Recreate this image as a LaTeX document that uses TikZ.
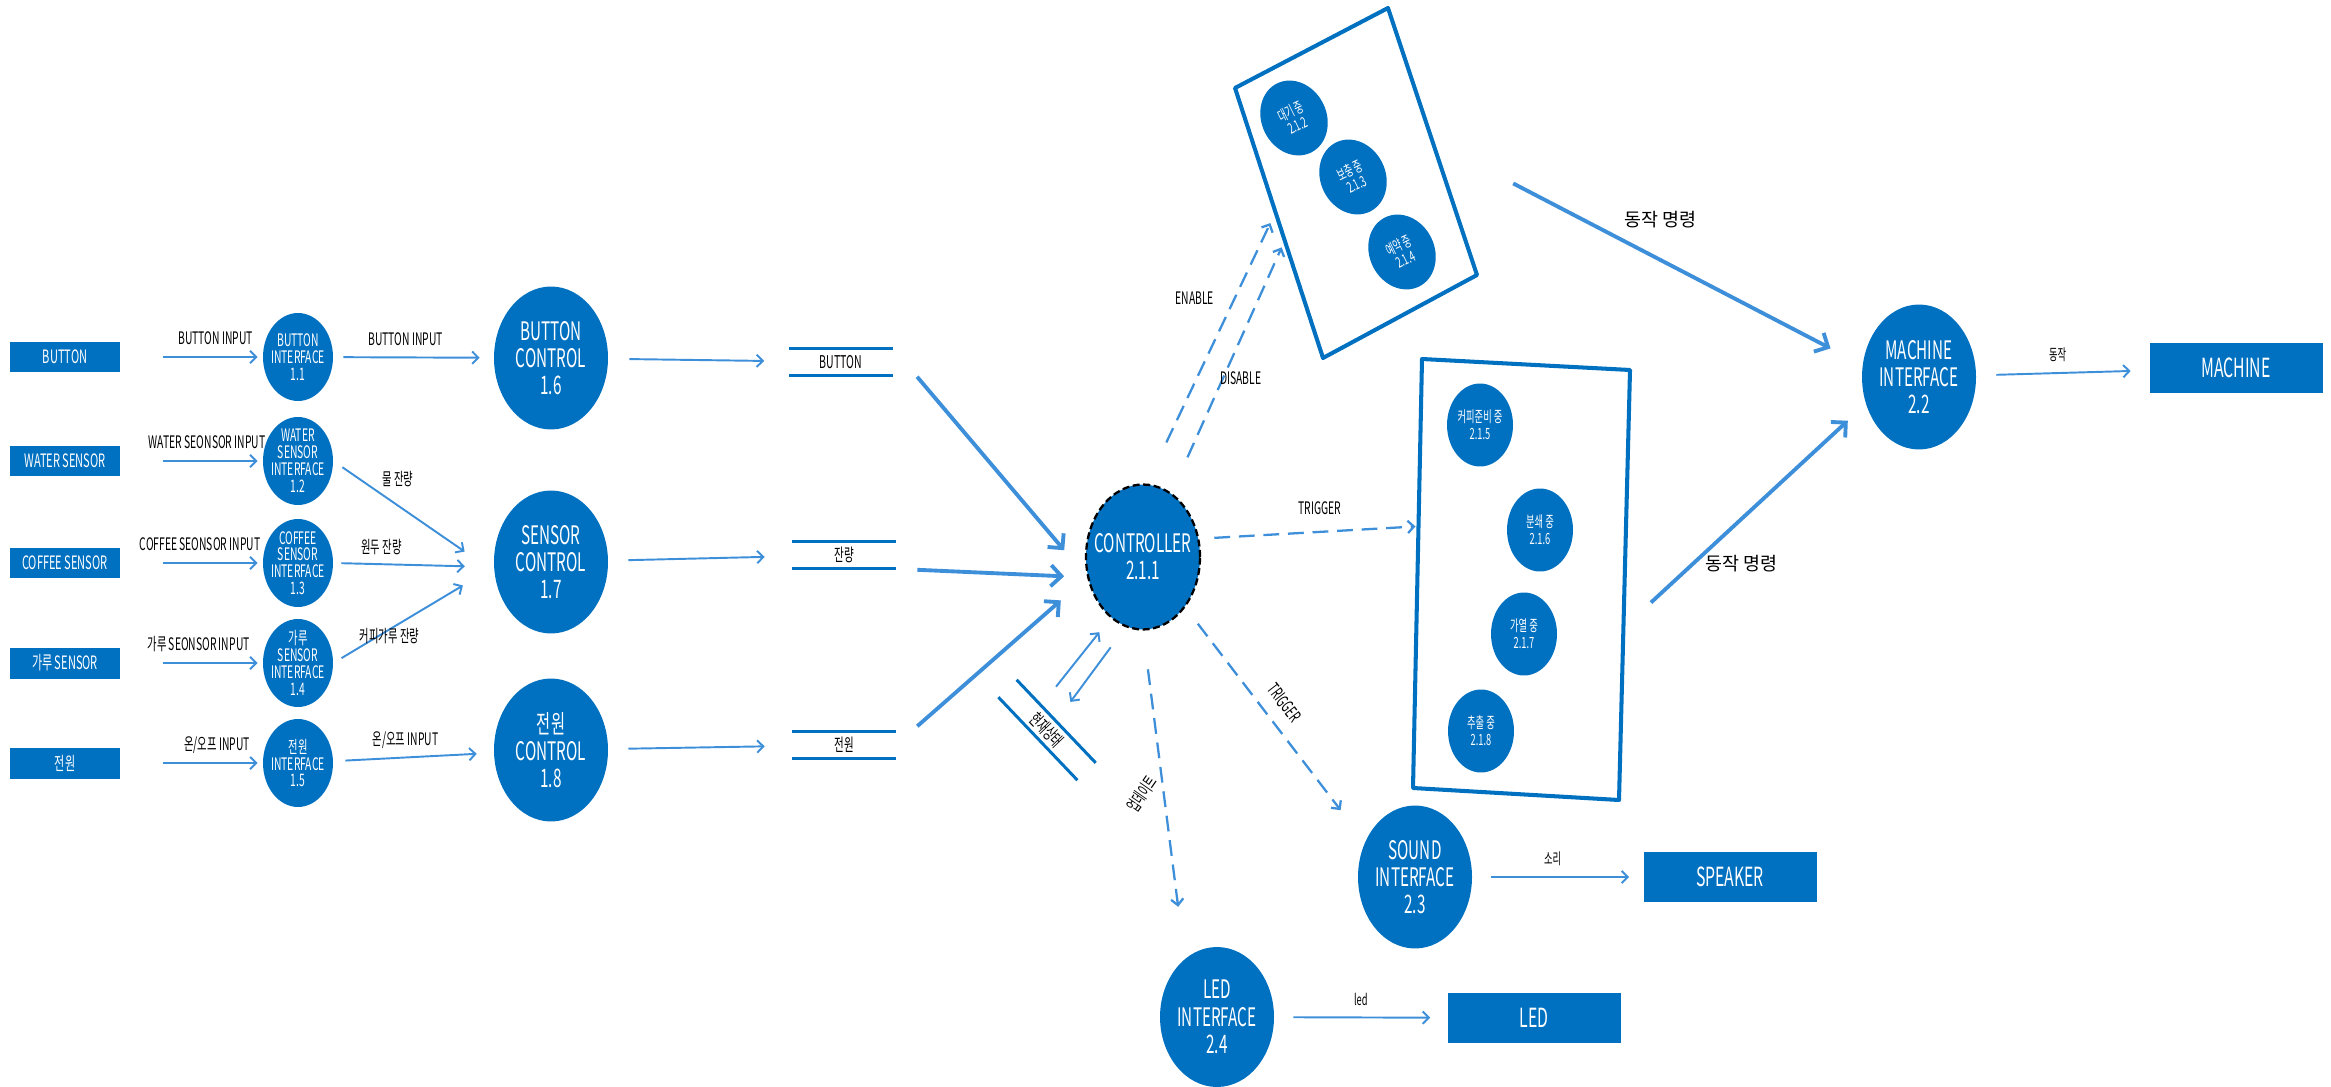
\documentclass[tikz,border=0pt]{standalone}
\usepackage{fontspec}
\setmainfont[FakeStretch=0.6]{Noto Sans CJK KR}
\newfontfamily\krwide{Noto Sans CJK KR}
\usetikzlibrary{arrows.meta, shapes.geometric, calc, positioning}
\definecolor{procblue}{RGB}{0,112,192}
\definecolor{flowblue}{RGB}{62,143,217}
\def\fntterm{\fontsize{10.5}{12}\selectfont}
\def\fntbig{\fontsize{14.5}{15.5}\selectfont}
\def\fntsink{\fontsize{15}{16}\selectfont}
\def\fntif{\fontsize{9.8}{9.6}\selectfont}
\def\fntstate{\fontsize{8.8}{9.8}\selectfont}
\def\fntrot{\fontsize{8.5}{9}\selectfont}
\def\fntstore{\fontsize{10}{11}\selectfont}
\def\fntlbl{\fontsize{9.8}{11}\selectfont}
\def\fntsmall{\fontsize{8.8}{10}\selectfont}
\def\fntcmd{\krwide\fontsize{10.5}{12}\selectfont}
\tikzset{ x=0.02cm, y=-0.02cm, >={Straight Barb[length=3.5pt, width=7pt]},
  term/.style={fill=procblue, text=white, minimum width=2.2cm, minimum height=0.62cm, inner sep=0pt, font=\fntterm},
  sink/.style={term, minimum width=3.46cm, minimum height=1cm, font=\fntsink},
  proc/.style={ellipse, fill=procblue, text=white, align=center, inner sep=-1cm, minimum width=2.28cm, minimum height=2.86cm, font=\fntbig},
  iface/.style={proc, minimum width=1.4cm, minimum height=1.76cm, font=\fntif},
  stproc/.style={proc, minimum width=1.32cm, minimum height=1.66cm, font=\fntstate},
  rotproc/.style={proc, minimum width=1.3cm, minimum height=1.54cm, font=\fntrot, rotate=26},
  store/.style={minimum width=2.06cm, minimum height=0.54cm, inner sep=0pt, font=\fntstore},
  storeline/.style={draw=procblue, line width=1.7pt},
  statebox/.style={draw=procblue, line width=2.3pt, line join=round},
  flow/.style={draw=flowblue, line width=1.1pt, ->},
  bigflow/.style={draw=flowblue, line width=2.2pt, -{Straight Barb[length=6pt, width=12pt]}},
  cmd/.style={flow, line width=1.3pt, dash pattern=on 9pt off 5pt},
  lbl/.style={font=\fntlbl, text=black, inner sep=1pt, text height=7pt, text depth=1pt}
}

\begin{document}
\begin{tikzpicture}
\useasboundingbox (0,0) rectangle (2331,1087);
% external entities
\node[term] (tbtn) at (65,357) {BUTTON};
\node[term] (twat) at (65,461) {WATER SENSOR};
\node[term] (tcof) at (65,563) {COFFEE SENSOR};
\node[term] (tgar) at (65,663) {가루 SENSOR};
\node[term] (tpwr) at (65,763) {전원};
\node[sink] (tmac) at (2236,368) {MACHINE};
\node[sink] (tspk) at (1730,877) {SPEAKER};
\node[sink] (tled) at (1534,1018) {LED};
% interfaces
\node[iface] (ibtn) at (298,357) {BUTTON\\INTERFACE\\1.1};
\node[iface] (iwat) at (298,461) {WATER\\SENSOR\\INTERFACE\\1.2};
\node[iface] (icof) at (298,563) {COFFEE\\SENSOR\\INTERFACE\\1.3};
\node[iface] (igar) at (298,663) {가루\\SENSOR\\INTERFACE\\1.4};
\node[iface] (ipwr) at (298,763) {전원\\INTERFACE\\1.5};
\node[proc, minimum height=2.9cm] (imac) at (1919,377) {MACHINE\\INTERFACE\\2.2};
\node[proc] (isnd) at (1415,877) {SOUND\\INTERFACE\\2.3};
\node[proc, minimum height=2.8cm] (iled) at (1217,1017) {LED\\INTERFACE\\2.4};
% controls
\node[proc] (cbtn) at (551,358) {BUTTON\\CONTROL\\1.6};
\node[proc] (csen) at (551,562) {SENSOR\\CONTROL\\1.7};
\node[proc] (cpwr) at (551,750) {전원\\CONTROL\\1.8};
\node[proc, draw=black, line width=1.3pt, dash pattern=on 4pt off 2pt, minimum height=2.9cm] (ctrl) at (1143,557) {CONTROLLER\\2.1.1};
% data stores
\node[store] (sbtn) at (841,362) {BUTTON};
\node[store] (sres) at (844,555) {잔량};
\node[store] (spwr) at (844,745) {전원};
\node[store, minimum width=2.28cm, minimum height=0.49cm, rotate=-46.4] (scur) at (1047,730) {현재상태};
\foreach \s in {sbtn,sres,spwr,scur}
  \draw[storeline] (\s.north west) -- (\s.north east) (\s.south west) -- (\s.south east);
% state groups
\coordinate (aNW) at (1235,88); \coordinate (aNE) at (1388,8);
\coordinate (aSE) at (1477,275); \coordinate (aSW) at (1323,358);
\draw[statebox] (aNW) -- (aNE) -- (aSE) -- (aSW) -- cycle;
\node[rotproc] (s212) at (1294,118) {대기 중\\2.1.2};
\node[rotproc] (s213) at (1353,177) {보충 중\\2.1.3};
\node[rotproc] (s214) at (1402,252) {예약 중\\2.1.4};
\coordinate (bNW) at (1422,359); \coordinate (bNE) at (1630,370);
\coordinate (bSE) at (1619,800); \coordinate (bSW) at (1413,788);
\draw[statebox] (bNW) -- (bNE) -- (bSE) -- (bSW) -- cycle;
\node[stproc] (s215) at (1480,425) {커피준비 중\\2.1.5};
\node[stproc] (s216) at (1540,530) {분쇄 중\\2.1.6};
\node[stproc] (s217) at (1524,634) {가열 중\\2.1.7};
\node[stproc] (s218) at (1481,731) {추출 중\\2.1.8};
\coordinate (aEN) at ($(aNW)!0.46!(aSW)$);
\coordinate (aDI) at ($(aNW)!0.565!(aSW)$);
\coordinate (aOUT) at ($(aNE)!0.5!(aSE)$);
\coordinate (bIN) at ($(bNW)!0.39!(bSW)$);
\coordinate (bOUT) at ($(bNE)!0.6!(bSE)$);
% inputs
\draw[flow, shorten <=0.86cm, shorten >=0.1cm] (tbtn) -- node[lbl, pos=0.67, above=4.5pt]{BUTTON INPUT} (ibtn);
\draw[flow, shorten <=0.86cm, shorten >=0.1cm] (twat) -- node[lbl, pos=0.61, above=4.5pt]{WATER SEONSOR INPUT} (iwat);
\draw[flow, shorten <=0.86cm, shorten >=0.1cm] (tcof) -- node[lbl, pos=0.56, above=4.5pt]{COFFEE SEONSOR INPUT} (icof);
\draw[flow, shorten <=0.86cm, shorten >=0.1cm] (tgar) -- node[lbl, pos=0.55, above=4.5pt]{가루 SEONSOR INPUT} (igar);
\draw[flow, shorten <=0.86cm, shorten >=0.1cm] (tpwr) -- node[lbl, pos=0.68, above=4.5pt]{온/오프 INPUT} (ipwr);
% interfaces -> controls
\draw[flow, shorten <=0.2cm, shorten >=0.28cm] (ibtn) -- node[lbl, pos=0.45, above=4.5pt]{BUTTON INPUT} (cbtn);
\draw[flow, shorten <=0.22cm, shorten >=0.72cm] (iwat.east) -- node[lbl, pos=0.4, above=9pt]{물 잔량} (csen.190);
\draw[flow, shorten <=0.16cm, shorten >=0.58cm] (icof.east) -- node[lbl, pos=0.3, above=3.5pt]{원두 잔량} (csen.185);
\draw[flow, shorten <=0.19cm, shorten >=0.72cm] (igar.east) -- node[lbl, pos=0.35, yshift=-4.5pt]{커피가루 잔량} (csen.185);
\draw[flow, shorten <=0.24cm, shorten >=0.34cm] (ipwr) -- node[lbl, pos=0.45, above=4.5pt]{온/오프 INPUT} (cpwr);
% controls -> stores -> controller
\draw[flow, shorten <=0.42cm, shorten >=0.5cm] (cbtn) -- (sbtn);
\draw[flow, shorten <=0.4cm, shorten >=0.55cm] (csen) -- (sres);
\draw[flow, shorten <=0.4cm, shorten >=0.55cm] (cpwr) -- (spwr);
\draw[bigflow, shorten <=0.75cm, shorten >=0.71cm] (sbtn.north east) -- (ctrl.200);
\draw[bigflow, shorten <=0.43cm, shorten >=0.46cm] (sres.south east) -- (ctrl.200);
\draw[bigflow, shorten <=0.57cm, shorten >=0.7cm] (spwr.east) -- (ctrl.200);
% controller outputs
\draw[cmd, shorten <=0.91cm, shorten >=0.24cm] (ctrl.87) -- node[lbl, pos=0.68, left=10pt]{ENABLE} (aEN);
\draw[cmd, shorten <=0.78cm, shorten >=0.15cm] (ctrl.66) -- node[lbl, pos=0.45, right=-3pt]{DISABLE} (aDI);
\draw[cmd, shorten <=0.3cm, shorten >=0.06cm] (ctrl.18) -- node[lbl, pos=0.55, above=7.5pt]{TRIGGER} (bIN);
\draw[cmd, shorten <=0.41cm, shorten >=0.8cm] (ctrl.-50) -- node[lbl, pos=0.46, sloped, above=5.5pt]{TRIGGER} (isnd.145);
\draw[cmd, shorten <=0.78cm, shorten >=1.05cm] (ctrl.south) -- node[lbl, pos=0.5, xshift=-12pt, rotate=55]{업데이트} (iled.119);
\draw[flow, shorten <=0.48cm, shorten >=0.36cm] (scur.150) -- (ctrl.242);
\draw[flow, shorten <=0.5cm, shorten >=0.48cm] (ctrl.256) -- (scur.north);
% machine, speaker, led
\draw[bigflow, shorten <=1.82cm, shorten >=0.72cm] (aOUT) -- node[lbl, font=\fntcmd, pos=0.53, above=16pt]{동작 명령} (imac.168);
\draw[bigflow, shorten <=0.75cm, shorten >=0.49cm] (bOUT) -- node[lbl, font=\fntcmd, pos=0.28, right=6pt]{동작 명령} (imac.207);
\draw[flow, shorten <=0.4cm, shorten >=0.37cm] (imac) -- node[lbl, font=\fntsmall, pos=0.47, above=4.5pt]{동작} (tmac);
\draw[flow, shorten <=0.38cm, shorten >=0.28cm] (isnd) -- node[lbl, font=\fntsmall, pos=0.47, above=4.5pt]{소리} (tspk);
\draw[flow, shorten <=0.38cm, shorten >=0.34cm] (iled) -- node[lbl, font=\fntsmall, pos=0.5, above=4.5pt]{led} (tled);
\end{tikzpicture}
\end{document}
